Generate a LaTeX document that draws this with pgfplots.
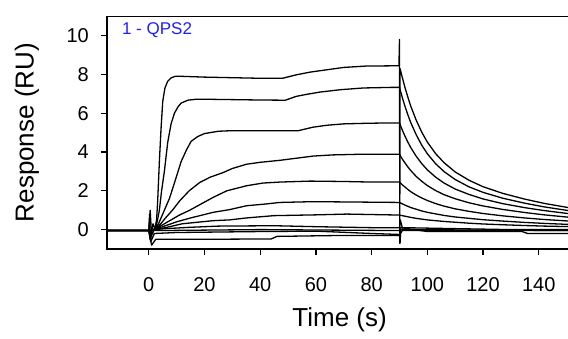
\documentclass[border=0pt]{standalone}
\usepackage{pgfplots}
\pgfplotsset{compat=1.18}
\usepackage{fontspec}
\setmainfont{Liberation Sans}
\definecolor{lblblue}{RGB}{30,30,255}
\begin{document}
\begin{tikzpicture}
\begin{axis}[
  at={(107pt,89pt)}, anchor=south west,
  scale only axis, width=465.2pt, height=232.8pt,
  xmin=-15, xmax=152, ymin=-1, ymax=11,
  xtick={0,20,...,140}, ytick={0,2,...,10},
  tick align=outside, xtick pos=bottom, ytick pos=left,
  major tick length=6pt,
  every tick/.style={black, line width=1.2pt},
  axis line style={line width=1.4pt},
  /pgf/number format/assume math mode=true,
  ticklabel style={font=\fontsize{20}{20}\selectfont, inner sep=0pt},
  yticklabel style={anchor=east, xshift=-12pt},
  xticklabel style={anchor=north, yshift=-22pt},
  xlabel={Time (s)}, ylabel={Response (RU)},
  label style={font=\fontsize{26}{26}\selectfont},
  xlabel style={at={(axis description cs:0.5,-0.305)}, anchor=center},
  ylabel style={at={(axis description cs:-0.172,0.5)}, anchor=center},
  cycle list={{black}},
  every axis plot/.append style={solid, line width=1.3pt, line join=round, no markers},
]
% curve 1
\addplot coordinates {(-15,-0.05)(0,-0.05)(0.3,0.8)(0.6,-0.6)(1.2,0.0)(2.2,0.05)(2.8,0.5)(3.2,1.5)(3.8,3.5)(4.4,5.2)(5,6.6)(5.8,7.3)(6.8,7.65)(8,7.82)(9.5,7.9)(12,7.9)(20,7.86)(30,7.83)(40,7.8)(48,7.8)(53,7.98)(58,8.12)(64,8.24)(70,8.36)(78,8.43)(86,8.44)(89.8,8.45)(90,9.8)(90.1,-0.7)(90.2,8.3)(91,7.85)(92,7.31)(93,6.83)(94,6.38)(96,5.64)(98,5.02)(100,4.51)(103,3.91)(106,3.45)(110,2.97)(115,2.54)(120,2.21)(127,1.87)(135,1.57)(142,1.35)(152,1.1)};
% curve 2
\addplot coordinates {(-15,-0.05)(0,-0.05)(2.2,0)(3,0.4)(3.8,1.0)(4.6,2.0)(5.6,3.0)(6.8,4.5)(8,5.45)(9.2,6.0)(10.5,6.33)(11.6,6.52)(14,6.67)(17,6.72)(20,6.72)(30,6.7)(40,6.68)(49,6.67)(53,6.87)(57,6.98)(61.5,7.09)(68.7,7.21)(77,7.3)(86.7,7.33)(90,7.33)(91,6.81)(92,6.34)(93,5.92)(94,5.53)(96,4.89)(98,4.35)(100,3.91)(103,3.39)(106,2.99)(110,2.58)(115,2.20)(120,1.92)(127,1.62)(135,1.36)(142,1.17)(152,0.95)};
% curve 3
\addplot coordinates {(-15,-0.05)(0,-0.05)(2,0)(3.5,0.3)(5,0.8)(7.4,1.6)(9.2,2.4)(11.6,3.5)(13.5,4.1)(15.2,4.55)(17.6,4.8)(20,4.95)(25,5.07)(30,5.1)(40,5.1)(53.7,5.1)(59,5.28)(64,5.38)(70,5.45)(78,5.48)(86.7,5.5)(90,5.5)(91,5.13)(92,4.81)(93,4.51)(94,4.24)(96,3.78)(98,3.40)(100,3.08)(103,2.70)(106,2.40)(110,2.09)(115,1.81)(120,1.58)(127,1.34)(135,1.13)(142,0.98)(152,0.80)};
% curve 4
\addplot coordinates {(-15,-0.05)(0,-0.05)(2,0)(4,0.25)(6,0.6)(8.5,1.0)(11.2,1.5)(14.5,2.0)(18.3,2.43)(22,2.7)(26.7,2.94)(30,3.15)(35.1,3.37)(40,3.47)(47,3.57)(53,3.68)(59,3.79)(66,3.85)(74.7,3.88)(90,3.88)(91,3.64)(92,3.43)(93,3.23)(94,3.05)(96,2.74)(98,2.49)(100,2.27)(103,2.01)(106,1.80)(110,1.59)(115,1.38)(120,1.22)(127,1.04)(135,0.88)(142,0.76)(152,0.62)};
% curve 5
\addplot coordinates {(-15,-0.05)(0,-0.05)(2,0)(5,0.25)(8,0.5)(11,0.75)(14.7,1.0)(18.5,1.3)(23.1,1.66)(28,2.0)(35.1,2.26)(41,2.4)(47,2.45)(58,2.5)(70,2.48)(80,2.45)(90,2.45)(91,2.31)(92,2.19)(93,2.07)(94,1.96)(96,1.78)(98,1.63)(100,1.50)(103,1.34)(106,1.21)(110,1.07)(115,0.94)(120,0.83)(127,0.71)(135,0.60)(142,0.52)(152,0.43)};
% curve 6
\addplot coordinates {(-15,-0.05)(0,-0.05)(2,0)(5,0.15)(10,0.4)(15,0.6)(23.1,0.89)(29,1.03)(35.1,1.23)(42,1.32)(47,1.4)(59,1.44)(75,1.42)(90,1.4)(91,1.33)(92,1.26)(93,1.20)(94,1.14)(96,1.05)(98,0.96)(100,0.89)(103,0.81)(106,0.73)(110,0.65)(115,0.58)(120,0.51)(127,0.44)(135,0.37)(142,0.32)(152,0.26)};
% curve 7
\addplot coordinates {(-15,-0.05)(0,-0.05)(2,0)(6,0.1)(12,0.3)(23.1,0.46)(29,0.5)(35,0.6)(45,0.72)(60,0.76)(71,0.8)(90,0.75)(91,0.72)(92,0.69)(94,0.63)(96,0.58)(98,0.54)(100,0.50)(103,0.46)(106,0.42)(110,0.38)(115,0.33)(120,0.29)(127,0.25)(135,0.21)(142,0.18)(152,0.15)};
% curve 8
\addplot coordinates {(-15,-0.05)(0,-0.05)(0.5,1.0)(1,-0.3)(2,0.0)(6,0.05)(15,0.12)(25,0.18)(45,0.2)(60,0.15)(80,0.1)(90,0.1)(90.3,0.5)(91,0.1)(110,0.05)(130,0.0)(152,0.0)};
% curve 9
\addplot coordinates {(-15,-0.05)(0,-0.05)(0.5,-0.5)(1.5,0.3)(2.5,-0.05)(40,0.0)(90,-0.05)(91,0.0)(152,-0.05)};
% curve 10
\addplot coordinates {(-15,-0.05)(0,-0.05)(0.8,-0.6)(2,-0.2)(10,-0.15)(40,-0.1)(60,-0.08)(80,-0.2)(90,-0.25)(90.2,-0.7)(90.5,0.1)(100,-0.1)(134,-0.1)(136,-0.2)(152,-0.2)};
% curve 11
\addplot coordinates {(-15,-0.05)(0,-0.05)(1,-0.8)(2.5,-0.5)(20,-0.5)(44,-0.48)(46,-0.35)(70,-0.3)(88,-0.3)(90,-0.3)(91,-0.05)(152,-0.05)};
\node[anchor=west, text=lblblue, font=\fontsize{17}{17}\selectfont, inner sep=0pt] at (axis description cs:0.032,0.941) {1 - QPS2};
\end{axis}
\pgfresetboundingbox
\useasboundingbox (0,0) rectangle (568pt,338pt);
\end{tikzpicture}
\end{document}
